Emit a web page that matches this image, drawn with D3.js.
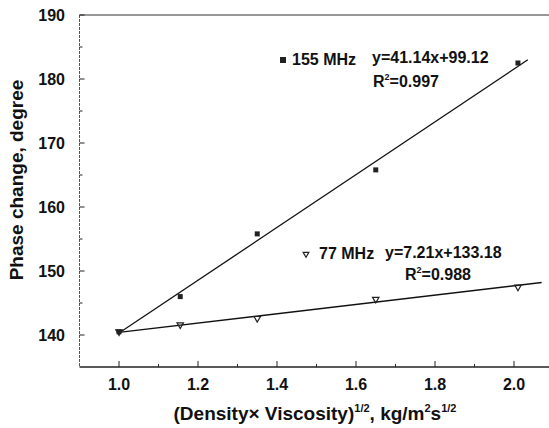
<!DOCTYPE html>
<html>
<head>
<meta charset="utf-8">
<script src="https://cdn.jsdelivr.net/npm/d3@7"></script>
<style>
  body { margin: 0; background: #fff; }
  text { font-family: "Liberation Sans", Arial, sans-serif; font-weight: bold; fill: #111; }
</style>
</head>
<body>
<div id="chart"></div>
<script>
// data
var xVals = [1.0, 1.155, 1.35, 1.65, 2.01];
var y155 = [140.5, 146.0, 155.8, 165.8, 182.5];
var y77 = [140.5, 141.6, 142.6, 145.6, 147.5];
// fitted line end points
var fit155 = [[1.0, 140.3], [2.035, 183.0]];
var fit77 = [[1.0, 140.4], [2.07, 148.2]];
var xTicks = [1.0, 1.2, 1.4, 1.6, 1.8, 2.0];
var yTicks = [140, 150, 160, 170, 180, 190];

var W = 549, H = 428;

var svg = d3.select("#chart")
  .append("svg")
    .attr("width", W)
    .attr("height", H);

var x = d3.scaleLinear()
  .domain([0.9, 2.2])
  .range([79.5, 79.5 + 1.3 * 395]);
var y = d3.scaleLinear()
  .domain([135, 190])
  .range([367, 15]);

// axis lines
svg.append("line")
  .attr("x1", x(0.9)).attr("x2", W)
  .attr("y1", y(135)).attr("y2", y(135))
  .attr("stroke", "#222").attr("stroke-width", 1.3);
svg.append("line")
  .attr("x1", x(0.9)).attr("x2", W)
  .attr("y1", y(190)).attr("y2", y(190))
  .attr("stroke", "#333").attr("stroke-width", 1.1);
svg.append("line")
  .attr("x1", x(0.9)).attr("x2", x(0.9))
  .attr("y1", y(190)).attr("y2", y(135))
  .attr("stroke", "#555").attr("stroke-width", 1)
  .attr("stroke-dasharray", "3,1");

// x ticks (inward), major + minor
var xMinor = d3.range(1.1, 2.2, 0.2);
svg.append("g").selectAll("line")
  .data(xTicks)
  .enter().append("line")
    .attr("x1", function(d){ return x(d) }).attr("x2", function(d){ return x(d) })
    .attr("y1", y(135)).attr("y2", y(135) - 6)
    .attr("stroke", "#222");
svg.append("g").selectAll("line")
  .data(xMinor)
  .enter().append("line")
    .attr("x1", function(d){ return x(d) }).attr("x2", function(d){ return x(d) })
    .attr("y1", y(135)).attr("y2", y(135) - 3)
    .attr("stroke", "#222");
svg.append("g").selectAll("text")
  .data(xTicks)
  .enter().append("text")
    .attr("x", function(d){ return x(d) })
    .attr("y", 390)
    .attr("text-anchor", "middle")
    .style("font-size", "16px")
    .text(function(d){ return d.toFixed(1) });

// y ticks
var yMinor = [145, 155, 165, 175, 185];
svg.append("g").selectAll("line")
  .data(yTicks)
  .enter().append("line")
    .attr("x1", x(0.9)).attr("x2", x(0.9) + 5)
    .attr("y1", function(d){ return y(d) }).attr("y2", function(d){ return y(d) })
    .attr("stroke", "#222");
svg.append("g").selectAll("line")
  .data(yMinor)
  .enter().append("line")
    .attr("x1", x(0.9)).attr("x2", x(0.9) + 3)
    .attr("y1", function(d){ return y(d) }).attr("y2", function(d){ return y(d) })
    .attr("stroke", "#222");
svg.append("g").selectAll("text")
  .data(yTicks)
  .enter().append("text")
    .attr("x", 65)
    .attr("y", function(d){ return y(d) + 6 })
    .attr("text-anchor", "end")
    .style("font-size", "16px")
    .text(function(d){ return d });

// fit lines
var line = d3.line()
  .x(function(d){ return x(d[0]) })
  .y(function(d){ return y(d[1]) });
svg.append("path")
  .attr("d", line(fit155))
  .attr("stroke", "#111").attr("stroke-width", 1.3).attr("fill", "none");
svg.append("path")
  .attr("d", line(fit77))
  .attr("stroke", "#111").attr("stroke-width", 1.3).attr("fill", "none");

// points
svg.append("g").selectAll("rect")
  .data(xVals)
  .enter().append("rect")
    .attr("x", function(d){ return x(d) - 2.5 })
    .attr("y", function(d, i){ return y(y155[i]) - 2.5 })
    .attr("width", 5).attr("height", 5)
    .attr("fill", "#222");
svg.append("g").selectAll("path")
  .data(xVals)
  .enter().append("path")
    .attr("d", d3.symbol().type(d3.symbolTriangle).size(18))
    .attr("transform", function(d, i){ return "translate(" + x(d) + "," + y(y77[i]) + ") rotate(180)" })
    .attr("fill", "none").attr("stroke", "#222").attr("stroke-width", 1.2);

// legend + equations
svg.append("rect")
  .attr("x", 280).attr("y", 57).attr("width", 6).attr("height", 6)
  .attr("fill", "#222");
svg.append("text").attr("x", 292).attr("y", 65)
  .style("font-size", "16px").text("155 MHz");
svg.append("text").attr("x", 372).attr("y", 63)
  .style("font-size", "16px").text("y=41.14x+99.12");
svg.append("text").attr("x", 373).attr("y", 87)
  .style("font-size", "16px")
  .html('R<tspan dy="-7" style="font-size:9px">2</tspan><tspan dy="7">=0.997</tspan>');

svg.append("path")
  .attr("d", d3.symbol().type(d3.symbolTriangle).size(14))
  .attr("transform", "translate(306,254) rotate(180)")
  .attr("fill", "none").attr("stroke", "#222").attr("stroke-width", 1.2);
svg.append("text").attr("x", 319).attr("y", 259)
  .style("font-size", "16px").text("77 MHz");
svg.append("text").attr("x", 385).attr("y", 258)
  .style("font-size", "16px").text("y=7.21x+133.18");
svg.append("text").attr("x", 405).attr("y", 280)
  .style("font-size", "16px")
  .html('R<tspan dy="-7" style="font-size:9px">2</tspan><tspan dy="7">=0.988</tspan>');

// axis titles
svg.append("text")
  .attr("x", 315).attr("y", 420)
  .attr("text-anchor", "middle")
  .style("font-size", "19px")
  .html('(Density\u00d7 Viscosity)<tspan dy="-8" style="font-size:11px">1/2</tspan><tspan dy="8">, kg/m</tspan><tspan dy="-8" style="font-size:11px">2</tspan><tspan dy="8">s</tspan><tspan dy="-8" style="font-size:11px">1/2</tspan>');

svg.append("text")
  .attr("transform", "translate(23,180) rotate(-90)")
  .attr("text-anchor", "middle")
  .style("font-size", "19px")
  .text("Phase change, degree");
</script>
</body>
</html>
